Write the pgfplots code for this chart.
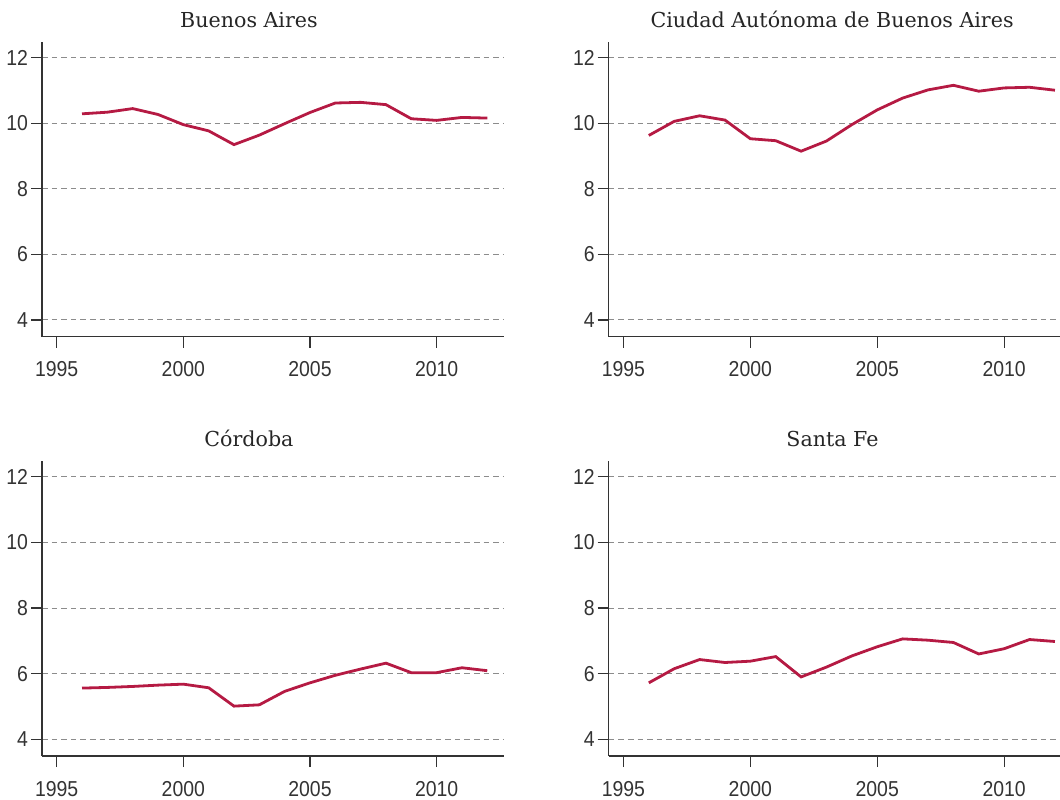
\documentclass[border=0pt]{standalone}
\usepackage{fontspec}
\setmainfont{Liberation Sans}
\newfontfamily\tickfont[FakeStretch=0.9]{Liberation Sans}
\newfontfamily\titlefont{DejaVu Serif}
\usepackage{pgfplots}
\pgfplotsset{compat=1.18}
\definecolor{linered}{HTML}{B51A43}
\definecolor{axgray}{HTML}{333333}
\definecolor{gridgray}{HTML}{8C8C8C}
\pgfplotsset{
  panel/.style={
    scale only axis, width=231pt, height=147.5pt,
    xmin=1994.42, xmax=2012.66, ymin=3.49, ymax=12.49,
    axis x line*=bottom, axis y line*=left,
    axis line style={axgray, line width=0.6pt, -},
    xtick={1995,2000,2005,2010}, ytick={4,6,8,10,12},
    tick align=outside, major tick length=5.5pt,
    tick style={axgray, line width=0.6pt},
    ymajorgrids,
    grid style={gridgray, line width=0.5pt, dash pattern=on 2.8pt off 2pt},
    /pgf/number format/assume math mode=true,
    /pgf/number format/1000 sep={},
    ticklabel style={font=\tickfont\fontsize{10.8}{12}\selectfont, text=axgray},
    xticklabel style={yshift=-3.5pt},
    yticklabel style={xshift=2pt},
    every axis title shift=0pt,
    title style={font=\titlefont\fontsize{10.3}{12}\selectfont, text=black!85, anchor=base, yshift=7.2pt},
  },
  ser/.style={linered, line width=1.4pt, no markers},
}
\begin{document}
\begin{tikzpicture}
% Buenos Aires
\begin{axis}[panel, at={(21pt,231.15pt)}, anchor=south west,
  title={Buenos Aires}, title style={at={(0.448,1)}}]
\addplot[ser] coordinates {
(1996,10.29) (1997,10.34) (1998,10.45) (1999,10.27) (2000,9.96) (2001,9.77)
(2002,9.35) (2003,9.64) (2004,9.99) (2005,10.33) (2006,10.62) (2007,10.64)
(2008,10.57) (2009,10.14) (2010,10.09) (2011,10.18) (2012,10.16)};
\end{axis}
% CABA
\begin{axis}[panel, at={(304.35pt,231.15pt)}, anchor=south west, width=225.65pt, xmax=2012.2,
  title={Ciudad Autónoma de Buenos Aires}, title style={at={(0.495,1)}}]
\addplot[ser] coordinates {
(1996,9.63) (1997,10.06) (1998,10.23) (1999,10.10) (2000,9.53) (2001,9.47)
(2002,9.15) (2003,9.46) (2004,9.96) (2005,10.41) (2006,10.77) (2007,11.02)
(2008,11.16) (2009,10.98) (2010,11.08) (2011,11.10) (2012,11.01)};
\end{axis}
% Cordoba
\begin{axis}[panel, at={(21pt,21.5pt)}, anchor=south west, height=147.65pt,
  title={Córdoba}, title style={at={(0.448,1)}}]
\addplot[ser] coordinates {
(1996,5.56) (1997,5.58) (1998,5.61) (1999,5.65) (2000,5.68) (2001,5.57)
(2002,5.01) (2003,5.05) (2004,5.46) (2005,5.72) (2006,5.95) (2007,6.14)
(2008,6.32) (2009,6.03) (2010,6.03) (2011,6.18) (2012,6.09)};
\end{axis}
% Santa Fe
\begin{axis}[panel, at={(304.35pt,21.5pt)}, anchor=south west, width=225.65pt, height=147.65pt, xmax=2012.2,
  title={Santa Fe}, title style={at={(0.496,1)}}]
\addplot[ser] coordinates {
(1996,5.72) (1997,6.15) (1998,6.43) (1999,6.34) (2000,6.38) (2001,6.52)
(2002,5.90) (2003,6.20) (2004,6.54) (2005,6.82) (2006,7.06) (2007,7.02)
(2008,6.95) (2009,6.60) (2010,6.76) (2011,7.04) (2012,6.98)};
\end{axis}
\pgfresetboundingbox
\path (0,0) rectangle (530pt,399.5pt);
\end{tikzpicture}
\end{document}
